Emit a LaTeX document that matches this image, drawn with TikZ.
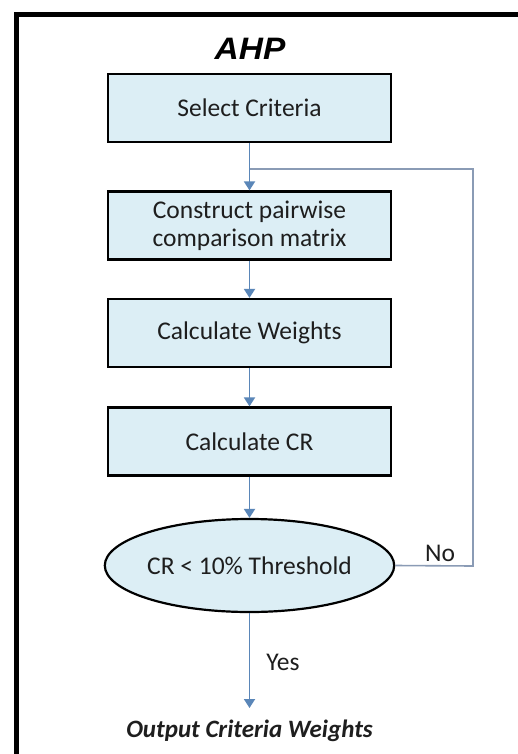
\documentclass[tikz,border=0pt]{standalone}
\usepackage{fontspec}
\setmainfont{Carlito}
\newfontfamily\titlefont{Liberation Sans}
\usetikzlibrary{shapes.geometric,arrows.meta}
\definecolor{boxfill}{HTML}{DCEEF5}
\definecolor{arrowblue}{HTML}{5A86B8}
\definecolor{loopgray}{HTML}{8A9BB5}
\definecolor{txt}{HTML}{1E1E1E}
\tikzset{
  stepbox/.style={draw=black, line width=2.2pt, fill=boxfill, rectangle,
    minimum width=283pt, minimum height=68pt, inner sep=0pt, align=center,
    text=txt, font=\fontsize{25.5}{28}\selectfont},
  decision/.style={draw=black, line width=2.2pt, fill=boxfill, ellipse,
    minimum width=284pt, minimum height=93pt, inner sep=0pt,
    text=txt, font=\fontsize{25.5}{28}\selectfont},
  flow/.style={draw=arrowblue, line width=1.8pt,
    -{Triangle[width=11pt,length=9pt]}},
  loopline/.style={draw=loopgray, line width=1.6pt},
  lbl/.style={text=txt, font=\fontsize{25.5}{28}\selectfont, inner sep=0pt},
}
\begin{document}
\begin{tikzpicture}[x=1pt,y=-1pt]
\useasboundingbox (0,0) rectangle (518,754);
\fill[white] (0,0) rectangle (518,754);
% frame
\draw[line width=5pt, black] (16.5,760) -- (16.5,14.5) -- (525,14.5);
\node[font=\titlefont\bfseries\itshape\fontsize{31}{36}\selectfont, inner sep=0pt, xscale=1.08] (title) at (250,48.5) {AHP};
\node[stepbox] (s1) at (249.5,108) {Select Criteria};
\node[stepbox] (s2) at (249.5,225.5) {Construct pairwise\\comparison matrix};
\node[stepbox] (s3) at (249.5,333) {Calculate Weights};
\node[stepbox] (s4) at (249.5,441.5) {Calculate CR};
\node[decision] (d) at (249.5,565.5) {CR < 10\% Threshold};
\node[lbl, font=\bfseries\itshape\fontsize{25}{28}\selectfont] (out) at (249.5,731) {Output Criteria Weights};
\coordinate (tip) at (249.5,708);
\coordinate (j) at (249.5,169);
\coordinate (r) at (473,566);
\coordinate (rt) at (473,169);
\draw[loopline] (d.east) -- (r) -- (rt) -- (j);
\draw[flow] (s1) -- (s2);
\draw[flow] (s2) -- (s3);
\draw[flow] (s3) -- (s4);
\draw[flow] (s4) -- (d);
\draw[flow] (d) -- (tip);
\node[lbl] (no) at (440,553) {No};
\node[lbl] (yes) at (283,662) {Yes};
\end{tikzpicture}
\end{document}
